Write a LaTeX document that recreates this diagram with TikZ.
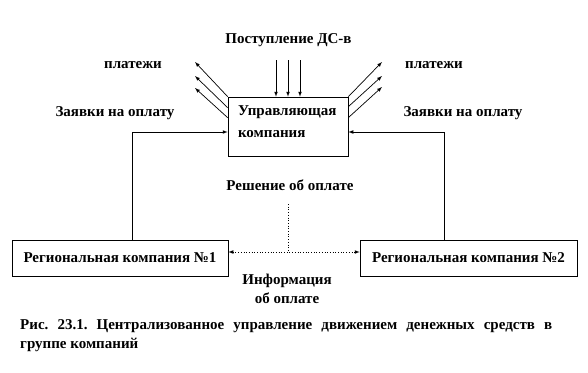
\documentclass[tikz,border=0pt]{standalone}
\usepackage{fontspec}
\setmainfont{Liberation Serif}

\begin{document}
\begin{tikzpicture}[x=1pt, y=-1pt,
        manifest/.style={rectangle, draw, line width=0.7pt, inner sep=0pt, font=\bfseries\fontsize{15}{22}\selectfont},
        txt/.style={inner sep=0pt, align=center, font=\bfseries\fontsize{15}{19}\selectfont},
        paths/.style={->, line width=0.7pt, -latex},
        feed/.style={line width=0.7pt},
        info/.style={line width=0.7pt, dotted}
    ]
        \useasboundingbox (0,0) rectangle (588,372);

        % Nodes
        \node[manifest, minimum width=120pt, minimum height=59pt, text width=100pt, text depth=31.5pt, align=left] (uk) at (288,126.5) {Управляющая\\компания};
        \node[manifest, minimum width=216pt, minimum height=36pt] (reg1) at (120,258) {Региональная компания №1};
        \node[manifest, minimum width=217pt, minimum height=36pt] (reg2) at (468.5,258) {Региональная компания №2};

        % Labels
        \node[txt] (inflow) at (288.5,40) {Поступление ДС-в};
        \node[txt] (payl) at (133,65) {платежи};
        \node[txt] (payr) at (434,65) {платежи};
        \node[txt] (reql) at (115,113) {Заявки на оплату};
        \node[txt] (reqr) at (463,113) {Заявки на оплату};
        \node[txt] (dec) at (290,185) {Решение об оплате};
        \node[txt] (inf) at (287,288.5) {Информация\\об оплате};

        % Paths: Inflow of funds
        \coordinate (in) at (288,60);
        \foreach \dx in {-12, 0, 12} {
            \draw[paths] ([xshift=\dx pt]in) -- ([xshift=\dx pt]uk.north);
        }

        % Paths: Payments
        \coordinate (pl1) at (195,62);
        \coordinate (pl2) at (195,76);
        \coordinate (pl3) at (195,88);
        \coordinate (pr1) at (382,62);
        \coordinate (pr2) at (382,76);
        \coordinate (pr3) at (382,87);
        \draw[paths] (uk.north west) -- (pl1);
        \draw[paths] ([yshift=-11pt]uk.north west) -- (pl2);
        \draw[paths] ([yshift=-21pt]uk.north west) -- (pl3);
        \draw[paths] (uk.north east) -- (pr1);
        \draw[paths] ([yshift=-10pt]uk.north east) -- (pr2);
        \draw[paths] ([yshift=-21pt]uk.north east) -- (pr3);

        % Paths: Payment requests
        \coordinate (fbl) at (132,132);
        \coordinate (fbr) at (444,132);
        \draw[feed] (fbl |- reg1.north) -- (fbl);
        \draw[paths] (fbl) -- (fbl -| uk.west);
        \draw[feed] (fbr |- reg2.north) -- (fbr);
        \draw[paths] (fbr) -- (fbr -| uk.east);

        % Paths: Decision and information
        \coordinate (dtop) at (288,204);
        \coordinate (dbot) at (288,252);
        \draw[info] (dtop) -- (dbot);
        \draw[info, latex-latex] (dbot -| reg1.east) -- (dbot -| reg2.west);

        % Caption
        \node[inner sep=0pt, anchor=north west, text width=532pt, align=justify, font=\bfseries\fontsize{15}{19}\selectfont] (cap) at (20,319) {\frenchspacing Рис. 23.1. Централизованное управление движением денежных средств в\linebreak группе компаний};
    \end{tikzpicture}
\end{document}
